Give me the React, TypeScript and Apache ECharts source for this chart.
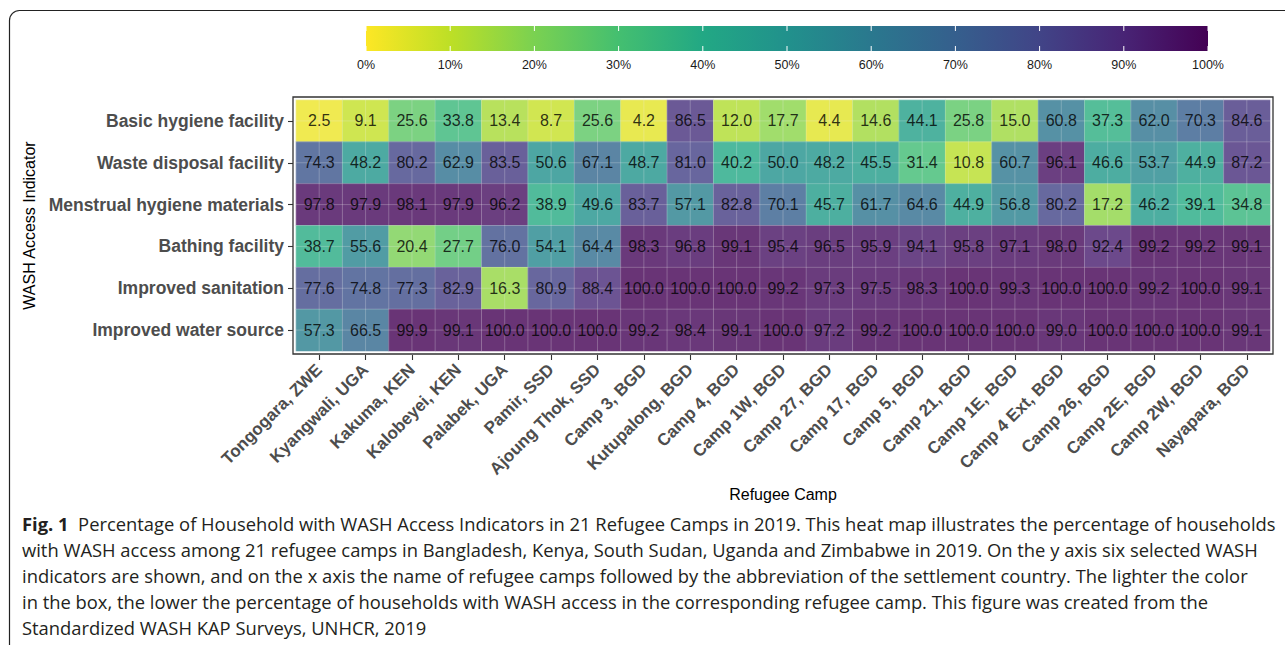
import React, { useEffect, useRef } from 'react';
import * as echarts from 'echarts';

const INDICATORS = [
  'Basic hygiene facility',
  'Waste disposal facility',
  'Menstrual hygiene materials',
  'Bathing facility',
  'Improved sanitation',
  'Improved water source',
];

const CAMPS = [
  'Tongogara, ZWE', 'Kyangwali, UGA', 'Kakuma, KEN', 'Kalobeyei, KEN', 'Palabek, UGA',
  'Pamir, SSD', 'Ajoung Thok, SSD', 'Camp 3, BGD', 'Kutupalong, BGD', 'Camp 4, BGD',
  'Camp 1W, BGD', 'Camp 27, BGD', 'Camp 17, BGD', 'Camp 5, BGD', 'Camp 21, BGD',
  'Camp 1E, BGD', 'Camp 4 Ext, BGD', 'Camp 26, BGD', 'Camp 2E, BGD', 'Camp 2W, BGD',
  'Nayapara, BGD',
];

const BASIC_HYGIENE = [2.5, 9.1, 25.6, 33.8, 13.4, 8.7, 25.6, 4.2, 86.5, 12.0, 17.7, 4.4, 14.6, 44.1, 25.8, 15.0, 60.8, 37.3, 62.0, 70.3, 84.6];
const WASTE_DISPOSAL = [74.3, 48.2, 80.2, 62.9, 83.5, 50.6, 67.1, 48.7, 81.0, 40.2, 50.0, 48.2, 45.5, 31.4, 10.8, 60.7, 96.1, 46.6, 53.7, 44.9, 87.2];
const MENSTRUAL = [97.8, 97.9, 98.1, 97.9, 96.2, 38.9, 49.6, 83.7, 57.1, 82.8, 70.1, 45.7, 61.7, 64.6, 44.9, 56.8, 80.2, 17.2, 46.2, 39.1, 34.8];
const BATHING = [38.7, 55.6, 20.4, 27.7, 76.0, 54.1, 64.4, 98.3, 96.8, 99.1, 95.4, 96.5, 95.9, 94.1, 95.8, 97.1, 98.0, 92.4, 99.2, 99.2, 99.1];
const SANITATION = [77.6, 74.8, 77.3, 82.9, 16.3, 80.9, 88.4, 100.0, 100.0, 100.0, 99.2, 97.3, 97.5, 98.3, 100.0, 99.3, 100.0, 100.0, 99.2, 100.0, 99.1];
const WATER = [57.3, 66.5, 99.9, 99.1, 100.0, 100.0, 100.0, 99.2, 98.4, 99.1, 100.0, 97.2, 99.2, 100.0, 100.0, 100.0, 99.0, 100.0, 100.0, 100.0, 99.1];

const ROW_VALUES = [BASIC_HYGIENE, WASTE_DISPOSAL, MENSTRUAL, BATHING, SANITATION, WATER];

const COLORBAR_TICKS = [0, 10, 20, 30, 40, 50, 60, 70, 80, 90, 100];
const COLORBAR_LABELS = ['0%', '10%', '20%', '30%', '40%', '50%', '60%', '70%', '80%', '90%', '100%'];

const X_TITLE = 'Refugee Camp';
const Y_TITLE = 'WASH Access Indicator';

const CAPTION_BOLD = 'Fig. 1';
const CAPTION_LINES = [
  '  Percentage of Household with WASH Access Indicators in 21 Refugee Camps in 2019. This heat map illustrates the percentage of households',
  'with WASH access among 21 refugee camps in Bangladesh, Kenya, South Sudan, Uganda and Zimbabwe in 2019. On the y axis six selected WASH',
  'indicators are shown, and on the x axis the name of refugee camps followed by the abbreviation of the settlement country. The lighter the color',
  'in the box, the lower the percentage of households with WASH access in the corresponding refugee camp. This figure was created from the',
  'Standardized WASH KAP Surveys, UNHCR, 2019',
];

// viridis, reversed (0 -> yellow, 100 -> dark purple)
const VIRIDIS = ['#FDE725', '#BDDF26', '#7AD151', '#44BF70', '#22A884', '#21918C', '#2A788E', '#355F8D', '#414487', '#482475', '#440154'];
// same stops blended at 80% opacity over white (tiles)
const VIRIDIS_TILE = ['#FDEC51', '#CAE551', '#95DA74', '#69CC8D', '#4EB99D', '#4DA7A3', '#5593A5', '#5D7FA4', '#67699F', '#6D5091', '#693476'];

const AXIS_FONT = '"Liberation Sans", Arial, Helvetica, sans-serif';
const CAPTION_FONT = '"Open Sans", "Noto Sans", sans-serif';

const GRID = { left: 296, top: 100, width: 974, height: 251 };
const BAR = { x: 366, y: 26, width: 842, height: 25 };

export default function App() {
  const ref = useRef<HTMLDivElement>(null);

  useEffect(() => {
    if (!ref.current) return;
    const chart = echarts.init(ref.current, undefined, { renderer: 'svg' });

    // fit caption font size to the caption width
    let capSize = 16;
    try {
      const ctx = document.createElement('canvas').getContext('2d');
      if (ctx) {
        ctx.font = `bold 100px ${CAPTION_FONT}`;
        const wb = ctx.measureText(CAPTION_BOLD).width;
        ctx.font = `100px ${CAPTION_FONT}`;
        const wr = ctx.measureText(CAPTION_LINES[0]).width;
        capSize = (100 * 1254) / (wb + wr);
      }
    } catch (e) {}

    const data: any[] = [];
    ROW_VALUES.forEach((row, r) => {
      row.forEach((v, c) => data.push([c, r, v]));
    });

    const gridColor = 'rgba(240,240,240,0.26)';

    const graphics: any[] = [
      {
        type: 'rect',
        shape: { x: 9.5, y: 10.5, width: 1320, height: 720, r: 10 },
        style: { fill: 'none', stroke: '#222', lineWidth: 1.2 },
        silent: true,
      },
      {
        type: 'rect',
        shape: { x: 293, y: 97, width: 980, height: 257 },
        style: { fill: 'none', stroke: '#333', lineWidth: 1.3 },
        z: 100,
        silent: true,
      },
      {
        type: 'rect',
        shape: { x: BAR.x, y: BAR.y, width: BAR.width, height: BAR.height },
        style: {
          fill: new echarts.graphic.LinearGradient(
            0, 0, 1, 0,
            VIRIDIS.map((c, i) => ({ offset: i / (VIRIDIS.length - 1), color: c }))
          ),
        },
        silent: true,
      },
    ];

    COLORBAR_TICKS.forEach((t, i) => {
      const x = BAR.x + (t / 100) * BAR.width;
      graphics.push({
        type: 'line',
        shape: { x1: x, y1: BAR.y, x2: x, y2: BAR.y + 5 },
        style: { stroke: '#fff', lineWidth: 1 },
        z: 10,
        silent: true,
      });
      graphics.push({
        type: 'line',
        shape: { x1: x, y1: BAR.y + BAR.height - 5, x2: x, y2: BAR.y + BAR.height },
        style: { stroke: '#fff', lineWidth: 1 },
        z: 10,
        silent: true,
      });
      graphics.push({
        type: 'text',
        x,
        y: 65,
        style: {
          text: COLORBAR_LABELS[i],
          fontSize: 12.5,
          fontFamily: AXIS_FONT,
          fill: '#1a1a1a',
          align: 'center',
          verticalAlign: 'middle',
        },
        silent: true,
      });
    });

    CAPTION_LINES.forEach((line, i) => {
      graphics.push({
        type: 'text',
        x: 22,
        y: 523 + 26 * i,
        style: {
          text: i === 0 ? `{b|${CAPTION_BOLD}}{r|${line}}` : line,
          fontSize: capSize,
          fontFamily: CAPTION_FONT,
          fill: '#231f20',
          verticalAlign: 'middle',
          rich: {
            b: { fontSize: capSize, fontFamily: CAPTION_FONT, fontWeight: 'bold', fill: '#231f20' },
            r: { fontSize: capSize, fontFamily: CAPTION_FONT, fill: '#231f20' },
          },
        },
        silent: true,
      });
    });

    chart.setOption({
      animation: false,
      grid: { ...GRID, containLabel: false },
      xAxis: {
        type: 'category',
        data: CAMPS,
        position: 'bottom',
        offset: 4,
        axisLine: { show: false },
        axisTick: { show: true, alignWithLabel: true, length: 5, lineStyle: { color: '#333', width: 1.1 } },
        axisLabel: {
          interval: 0,
          rotate: 45,
          margin: 12,
          fontSize: 17,
          fontWeight: 'bold',
          color: '#4d4d4d',
          fontFamily: AXIS_FONT,
        },
        splitLine: { show: false },
        name: X_TITLE,
        nameLocation: 'middle',
        nameGap: 131,
        nameTextStyle: { fontSize: 16, color: '#000', fontFamily: AXIS_FONT },
      },
      yAxis: {
        type: 'category',
        data: INDICATORS,
        inverse: true,
        offset: 3,
        axisLine: { show: false },
        axisTick: { show: true, alignWithLabel: true, length: 5, lineStyle: { color: '#333', width: 1.1 } },
        axisLabel: {
          margin: 9,
          fontSize: 17.5,
          fontWeight: 'bold',
          color: '#4d4d4d',
          fontFamily: AXIS_FONT,
        },
        splitLine: { show: false },
        name: Y_TITLE,
        nameLocation: 'middle',
        nameGap: 250,
        nameRotate: 90,
        nameTextStyle: { fontSize: 16, color: '#000', fontFamily: AXIS_FONT },
      },
      visualMap: {
        type: 'continuous',
        show: false,
        min: 0,
        max: 100,
        seriesIndex: 0,
        inRange: { color: VIRIDIS_TILE },
      },
      series: [
        {
          type: 'heatmap',
          data,
          z: 2,
          itemStyle: { borderWidth: 0 },
          label: { show: false },
          emphasis: { disabled: true },
          silent: true,
        },
        {
          type: 'custom',
          z: 5,
          silent: true,
          data: CAMPS.map((c, i) => [i, 0]),
          renderItem: (params: any, api: any) => {
            const cs = params.coordSys;
            const x = api.coord([api.value(0), api.value(1)])[0];
            const bw = api.size([1, 0])[0];
            const xs = [x, x - bw / 2];
            return {
              type: 'group',
              children: xs.map((px) => ({
                type: 'line',
                shape: { x1: px, y1: cs.y - 3, x2: px, y2: cs.y + cs.height + 3 },
                style: { stroke: gridColor, lineWidth: 1 },
              })),
            };
          },
        },
        {
          type: 'custom',
          z: 5,
          silent: true,
          data: INDICATORS.map((r, i) => [0, i]),
          renderItem: (params: any, api: any) => {
            const cs = params.coordSys;
            const y = api.coord([api.value(0), api.value(1)])[1];
            const bh = api.size([0, 1])[1];
            const ys = [y, y - bh / 2];
            return {
              type: 'group',
              children: ys.map((py) => ({
                type: 'line',
                shape: { x1: cs.x - 3, y1: py, x2: cs.x + cs.width + 3, y2: py },
                style: { stroke: gridColor, lineWidth: 1 },
              })),
            };
          },
        },
        {
          type: 'scatter',
          z: 10,
          silent: true,
          symbol: 'rect',
          symbolSize: 1,
          itemStyle: { color: 'rgba(0,0,0,0)' },
          data,
          label: {
            show: true,
            position: 'inside',
            color: '#000',
            fontSize: 16,
            fontFamily: AXIS_FONT,
            formatter: (p: any) => Number(p.value[2]).toFixed(1),
          },
          labelLayout: { hideOverlap: false },
          emphasis: { disabled: true },
        },
      ],
      graphic: graphics,
    });

    return () => chart.dispose();
  }, []);

  return (
    <div
      ref={ref}
      style={{ position: 'absolute', left: 0, top: 0, width: 1285, height: 645, background: '#fff' }}
    />
  );
}
